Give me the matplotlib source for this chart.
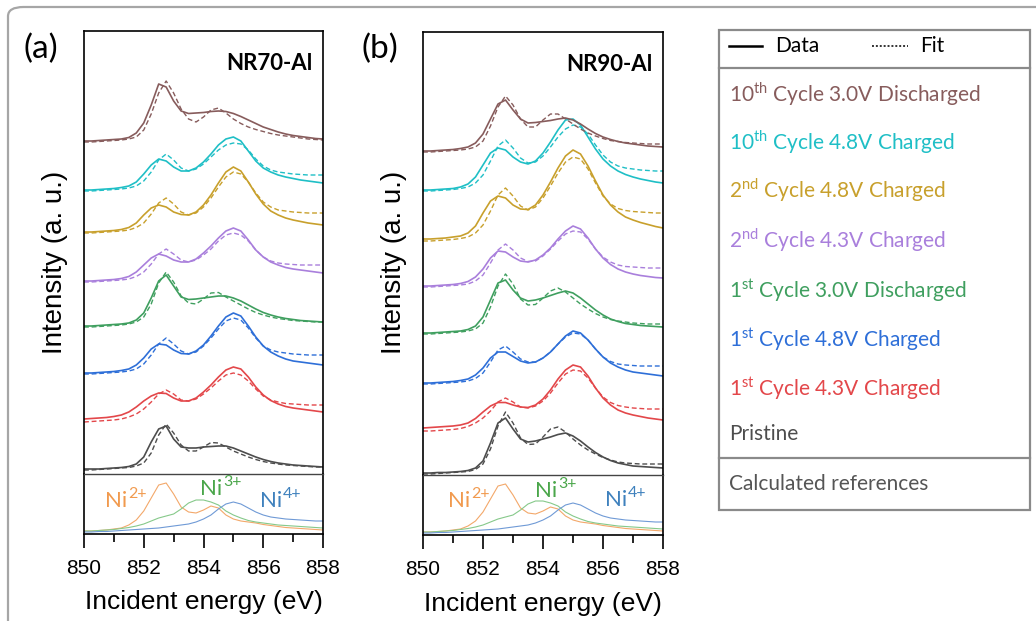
import numpy as np
import matplotlib
matplotlib.use('Agg')
import matplotlib.pyplot as plt
from matplotlib.patches import FancyBboxPatch, Rectangle
from matplotlib.lines import Line2D

plt.rcParams['font.family'] = ['Liberation Sans', 'DejaVu Sans']
plt.rcParams['mathtext.fontset'] = 'custom'
plt.rcParams['mathtext.rm'] = 'Lato'
plt.rcParams['mathtext.bf'] = 'Lato:bold'

# energy grid of the sampled spectra (eV)
energy = np.linspace(850, 858, 33)

# ---- NR70-Al, intensity above each curve's own baseline (a.u.) ----
pristine_a = [0, 0, 0, 0.5, 1, 1.5, 2.5, 5, 12, 27, 40, 43, 30, 22, 21, 21, 22, 22.5, 23, 23, 21, 18, 15, 12, 9.5, 7.5, 6, 5, 4, 3.5, 3, 2.5, 2]
pristine_a_fit = [-1, -1, -0.5, 0, 0.5, 1, 1.5, 3, 6, 16, 34, 45, 36, 24, 18, 18, 22, 26.5, 26, 22, 18, 15, 12, 9.5, 7.5, 6, 5, 4, 3.5, 3, 2.5, 2, 2]
c1_43_a = [0, 0.5, 1, 1.5, 2.5, 4, 7, 12, 18, 23, 26, 25.5, 21, 18, 18, 21, 27, 34, 42, 49, 52, 50, 42, 32, 24, 18.5, 15, 12.5, 11, 10, 9, 8, 7]
c1_43_a_fit = [-3, -2.5, -2, -1.5, -1, 0, 2, 5, 10, 17, 25, 29, 25, 19, 18, 20, 25, 31, 38, 44, 46, 44, 38, 30, 23, 19, 17, 15.5, 15, 14.5, 14, 14, 14]
c1_48_a = [0, 0, 0.5, 1, 1.5, 2.5, 4, 8, 15, 24, 29, 28, 23, 19.5, 19, 22, 28, 37, 47, 56, 60, 57, 47, 36, 27, 21, 17, 14, 12, 11, 10, 9, 8]
c1_48_a_fit = [-1, -1, -0.5, 0, 0.5, 1, 2, 4, 9, 18, 29, 35, 29, 22, 19, 21, 27, 35, 44, 52, 55, 53, 45, 35, 27, 23, 21, 20, 19, 18.5, 18, 18, 18]
c1_30_a = [0, 0, 0.5, 1, 1.5, 2, 3, 6, 13, 28, 45, 51, 40, 29, 26.5, 27, 28, 29, 30, 30, 28, 25, 21, 17, 13.5, 11, 9, 7.5, 6.5, 5.5, 5, 4.5, 4]
c1_30_a_fit = [-1, -1, -0.5, 0, 0.5, 1, 2, 4, 9, 22, 43, 54, 44, 30, 23, 22, 27, 33, 33.5, 29, 25, 21, 17, 13.5, 11, 9, 7.5, 6.5, 5.5, 5, 4.5, 4, 4]
c2_43_a = [0, 0, 0.5, 1, 1.5, 2.5, 4.5, 9, 16, 23, 27, 25, 21, 19, 19, 22, 28, 35, 43, 50, 53, 50, 41, 31, 24, 19, 16, 13.5, 12, 11, 10, 9, 8]
c2_43_a_fit = [-1, -1, -0.5, 0, 0.5, 1, 2, 4.5, 9, 17, 27, 32, 27, 21, 19, 21, 26, 32, 40, 46, 48, 46, 40, 31, 24, 20, 18, 17, 16.5, 16, 16, 16, 16]
c2_48_a = [0, 0, 0.5, 1, 1.5, 2.5, 4.5, 9, 17, 24, 27, 25, 20, 17.5, 17, 20, 27, 37, 49, 60, 65, 61, 50, 38, 28, 21, 17, 14, 12, 10.5, 9, 8, 7]
c2_48_a_fit = [-1, -1, -0.5, 0, 0.5, 1, 2, 4.5, 9, 18, 29, 34, 28, 20, 17, 19, 25, 34, 45, 55, 60, 58, 50, 39, 30, 25, 22, 21, 20, 19.5, 19, 19, 19]
c10_48_a = [0, 0, 0.5, 1, 1.5, 2.5, 4, 8, 16, 25, 31, 29, 23, 19, 19, 22, 28, 36, 45, 51, 53, 49, 39, 29, 22, 18, 15, 13, 11.5, 10, 9, 8, 7]
c10_48_a_fit = [-1, -1, -0.5, 0, 0.5, 1, 2, 4, 9, 18, 30, 36, 30, 22, 19, 21, 26, 33, 40, 45, 47, 46, 40, 31, 24, 20, 18, 17, 16, 15.5, 15, 15, 15]
c10_30_a = [0, 0, 0.5, 1, 1.5, 2, 3.5, 8, 18, 36, 57, 54, 40, 30, 27.5, 28, 28.5, 29.5, 30, 29.5, 27.5, 24.5, 21, 17.5, 14, 11.5, 9, 7, 5.5, 4.5, 3.5, 2.5, 2]
c10_30_a_fit = [-1, -1, -0.5, 0, 0.5, 1, 2, 4, 11, 27, 48, 60, 48, 32, 22, 19, 24, 31, 33, 28, 22, 17.5, 14, 11.5, 9.5, 7.5, 6, 5, 4, 3, 2, 1.5, 1]

# ---- NR90-Al ----
pristine_b = [0, 0, 0.5, 0.5, 1, 1.5, 2.5, 5, 12, 30, 50, 55, 44, 34, 31, 32, 34, 36, 38.5, 40, 37, 32, 26, 20.5, 16, 12.5, 10, 8.5, 7, 6.5, 6, 5.5, 5]
pristine_b_fit = [-1, -1, -0.5, 0, 0.5, 1, 1.5, 3.5, 9, 24, 47, 61, 50, 35, 28.5, 29, 36, 44, 46, 41, 34, 28, 23, 19, 15.5, 13, 11, 10, 9.5, 9, 9, 9, 9]
c1_43_b = [0, 0.5, 1, 1.5, 2, 3, 5, 9.5, 16, 22, 25.5, 25.5, 23, 21, 20.5, 23, 29, 38, 49, 58, 63, 61, 52, 40, 30, 23, 18, 15, 13, 11.5, 10, 9, 8]
c1_43_b_fit = [-3, -3, -2.5, -2, -1.5, -0.5, 1.5, 5, 10, 17, 26, 30, 26, 21, 20, 22, 27, 35, 45, 54, 58, 57, 50, 40, 31, 25.5, 22.5, 21, 20, 19.5, 19, 19, 19]
c1_48_b = [0, 0, 0.5, 1, 1.5, 2.5, 4, 8, 15, 25, 31, 31, 26.5, 22, 20, 21, 25, 31, 39, 47, 52, 50, 43, 34, 26, 20, 16, 13, 11, 10, 9, 8, 7]
c1_48_b_fit = [-1, -1, -0.5, 0, 0.5, 1, 2, 4.5, 10, 21, 33, 37, 31, 24, 21, 21, 25, 31, 39, 46, 50, 49, 43, 34, 26, 21.5, 19, 18, 17.5, 17, 17, 17, 17]
c1_30_b = [0, 0, 0.5, 1, 1.5, 2, 3.5, 7, 16, 33, 50, 53, 43, 35, 32, 33, 35, 37.5, 40, 42, 40, 35, 29, 23, 18, 14, 11.5, 9.5, 8.5, 7.5, 7, 6.5, 6]
c1_30_b_fit = [-1, -1, -0.5, 0, 0.5, 1, 2, 4, 10, 26, 47, 59, 49, 34, 28, 28.5, 35, 42, 45, 41, 35, 29, 24, 19.5, 16, 13.5, 12, 11, 10, 9.5, 9, 9, 9]
c2_43_b = [0, 0, 0.5, 1, 1.5, 2.5, 4.5, 9, 17, 28, 35, 34, 29, 25, 24, 26, 31, 38, 47, 55, 60, 57, 48, 37, 28, 21.5, 17, 14, 12, 10.5, 9.5, 8.5, 8]
c2_43_b_fit = [-1, -1, -0.5, 0, 0.5, 1, 2, 5, 11, 23, 36, 42, 36, 28, 24.5, 25, 30, 37, 45, 52, 55, 54, 47, 37, 29, 24, 21, 19.5, 19, 18.5, 18, 18, 18]
c2_48_b = [0, 0, 0.5, 1, 2, 3, 6, 13, 26, 38, 43, 41, 34, 30, 29.5, 34, 44, 57, 71, 83, 89, 85, 73, 58, 44, 34, 27, 22, 19, 16.5, 14.5, 12.5, 11]
c2_48_b_fit = [-2, -2, -1.5, -1, -0.5, 0.5, 2, 6, 14, 28, 44, 51, 43, 33, 29, 32, 41, 53, 66, 77, 82, 80, 70, 56, 43, 35, 30.5, 28.5, 27.5, 27, 26.5, 26, 26]
c10_48_b = [0, 0, 0.5, 1, 1.5, 3, 6, 13, 25, 37, 42, 40, 33, 28, 26, 29, 37, 48, 60, 70, 71, 65, 53, 41, 31, 24, 19, 15.5, 13, 11, 9.5, 8, 7]
c10_48_b_fit = [-1, -1, -0.5, 0, 0.5, 1.5, 3, 7, 15, 29, 44, 50, 42, 32, 27, 28, 34, 43, 53, 61, 65, 63, 56, 45, 35, 28, 24, 22, 21, 20, 19.5, 19, 19]
c10_30_b = [0, 0, 0.5, 1, 1.5, 2.5, 4, 8, 17, 32, 47, 51, 41, 32, 28, 28.5, 29.5, 30.5, 32, 33, 31, 27, 22, 17.5, 14, 11.5, 9.5, 8, 7, 6, 5, 4.5, 4]
c10_30_b_fit = [-1, -1, -0.5, 0, 0.5, 1, 2, 4, 10, 25, 44, 55, 46, 32, 24, 24, 31, 37, 37, 32, 27, 22, 18, 15, 12.5, 10.5, 9.5, 8.5, 8, 7.5, 7, 7, 7]

# ---- calculated references ----
ni2_ref = [3, 3, 3.5, 4, 5, 6, 9, 14, 23, 36, 49, 51, 40, 27, 22, 21, 24, 28, 26, 19, 15, 13, 12, 11, 9.5, 8.5, 7.5, 6.5, 6, 5.5, 5, 4.5, 4]
ni3_ref = [3, 3, 3.5, 4, 4.5, 5.5, 6.5, 8, 10, 13, 16, 18, 20, 25, 31, 34, 34, 32, 29, 23, 19, 16, 13.5, 12, 11, 10, 9, 8.5, 8, 7.5, 7, 6.5, 6]
ni4_ref = [2, 2, 2.5, 2.5, 3, 3.5, 4, 4.5, 5, 5.5, 6, 7, 8, 9, 10, 12, 15, 19, 25, 30, 32, 30, 26, 22, 19, 17, 16, 15, 14.5, 14, 13.5, 13, 13]

# stacking offsets, bottom to top
offsets_a = [5, 55, 101, 148, 193, 242, 284, 333]
offsets_b = [2, 47, 92, 142, 189, 236, 285, 324]

labels = ['Pristine',
          r'1$^{\mathrm{st}}$ Cycle 4.3V Charged',
          r'1$^{\mathrm{st}}$ Cycle 4.8V Charged',
          r'1$^{\mathrm{st}}$ Cycle 3.0V Discharged',
          r'2$^{\mathrm{nd}}$ Cycle 4.3V Charged',
          r'2$^{\mathrm{nd}}$ Cycle 4.8V Charged',
          r'10$^{\mathrm{th}}$ Cycle 4.8V Charged',
          r'10$^{\mathrm{th}}$ Cycle 3.0V Discharged']
colors = ['#4d4d4d', '#e3474a', '#2e6fd8', '#3f9f5f', '#a97fdc', '#c8a02c', '#1fbfc6', '#875c5c']

data_a = [pristine_a, c1_43_a, c1_48_a, c1_30_a, c2_43_a, c2_48_a, c10_48_a, c10_30_a]
fit_a = [pristine_a_fit, c1_43_a_fit, c1_48_a_fit, c1_30_a_fit, c2_43_a_fit, c2_48_a_fit, c10_48_a_fit, c10_30_a_fit]
data_b = [pristine_b, c1_43_b, c1_48_b, c1_30_b, c2_43_b, c2_48_b, c10_48_b, c10_30_b]
fit_b = [pristine_b_fit, c1_43_b_fit, c1_48_b_fit, c1_30_b_fit, c2_43_b_fit, c2_48_b_fit, c10_48_b_fit, c10_30_b_fit]

refs = [ni2_ref, ni3_ref, ni4_ref]
ref_colors = ['#f3a86a', '#86c98a', '#6f9ad6']
ni_sups = ['2+', '3+', '4+']
ni_cols = ['#f19a4e', '#4aa64a', '#3f81bd']

W, H = 1036, 621
fig = plt.figure(figsize=(W / 100, H / 100), dpi=100)


def fx(px):
    return px / W


def fy(py):
    return 1 - py / H


# rounded frame round the whole figure
frame = FancyBboxPatch((fx(8), fy(640)), fx(1060) - fx(8), fy(7) - fy(640),
                       boxstyle='round,pad=0,rounding_size=0.015', transform=fig.transFigure,
                       fc='none', ec='#a6a6a6', lw=1.6, clip_on=False)
fig.patches.append(frame)


def panel(left, right, top, mid, bottom, data, fits, offsets, letter, name, ni_pos):
    ax = fig.add_axes([fx(left), fy(mid), fx(right) - fx(left), fy(top) - fy(mid)])
    ar = fig.add_axes([fx(left), fy(bottom), fx(right) - fx(left), fy(mid) - fy(bottom)])
    for d, f, off, c in zip(data, fits, offsets, colors):
        ax.plot(energy, np.array(d) + off, color=c, lw=1.2)
        ax.plot(energy, np.array(f) + off, color=c, lw=1.0, ls=(0, (3.5, 2)))
    ax.set_xlim(850, 858)
    ax.set_ylim(0, mid - top)
    ax.set_xticks([])
    ax.set_yticks([])
    ax.spines['bottom'].set_visible(False)
    for s in ['top', 'left', 'right']:
        ax.spines[s].set_linewidth(1.2)
    ax.text(0.955, 0.95, name, transform=ax.transAxes, ha='right', va='top',
            fontsize=16, fontweight='bold', family='Lato')

    for r, c in zip(refs, ref_colors):
        ar.plot(energy, r, color=c, lw=0.8)
    ar.set_xlim(850, 858)
    ar.set_ylim(0, bottom - mid)
    ar.set_yticks([])
    ar.set_xticks([850, 852, 854, 856, 858])
    ar.set_xticks([851, 853, 855, 857], minor=True)
    ar.tick_params(axis='x', which='major', direction='out', length=10, width=1.2,
                   labelsize=15, pad=8)
    ar.tick_params(axis='x', which='minor', direction='out', length=6, width=1.2)
    ar.spines['top'].set_color('#444444')
    ar.spines['top'].set_linewidth(1.0)
    for s in ['bottom', 'left', 'right']:
        ar.spines[s].set_linewidth(1.2)
    ar.set_xlabel('Incident energy (eV)', fontsize=19, labelpad=9)

    # Ni labels with superscript charge
    for (x, y), s, c in zip(ni_pos, ni_sups, ni_cols):
        base = ar.text(x, y, 'Ni', color=c, fontsize=16, family='Lato',
                       ha='left', va='baseline')
        ar.annotate(s, xy=(1.0, 0.52), xycoords=base, xytext=(0.5, 0),
                    textcoords='offset points', color=c, fontsize=11.5,
                    family='Lato', ha='left', va='bottom')

    fig.text(fx(left - 29), fy(262), 'Intensity (a. u.)', rotation=90, ha='center',
             va='center', fontsize=20)
    fig.text(fx(left - 43), fy(49), letter, ha='center', va='center', fontsize=24, family='Lato')


panel(84, 323, 31, 474, 534, data_a, fit_a, offsets_a, '(a)', 'NR70-Al',
      [(850.7, 27), (853.88, 39), (855.9, 27)])
panel(423, 663, 32, 475, 535, data_b, fit_b, offsets_b, '(b)', 'NR90-Al',
      [(850.83, 28), (853.73, 38), (856.07, 29)])

# legend table on the right
box_col = '#8a8a8a'
fig.patches.append(Rectangle((fx(719), fy(510)), fx(1030) - fx(719), fy(30) - fy(510),
                             transform=fig.transFigure, fc='none', ec=box_col, lw=1.6))
for py in [68, 458]:
    fig.lines.append(Line2D([fx(719), fx(1030)], [fy(py), fy(py)], transform=fig.transFigure,
                            color=box_col, lw=1.6))
fig.lines.append(Line2D([fx(729), fx(762)], [fy(46), fy(46)], transform=fig.transFigure,
                        color='black', lw=1.8))
fig.lines.append(Line2D([fx(872), fx(908)], [fy(46), fy(46)], transform=fig.transFigure,
                        color='#333333', lw=1.4, ls=(0, (1, 1))))
fig.text(fx(775), fy(46), 'Data', fontsize=15, family='Lato', va='center')
fig.text(fx(920), fy(46), 'Fit', fontsize=15, family='Lato', va='center')

label_y = [434, 389, 340, 291, 240, 190, 142, 94]
for lab, c, py in zip(labels, colors, label_y):
    fig.text(fx(729), fy(py), lab, color=c, fontsize=15, family='Lato', va='center')
fig.text(fx(729), fy(484), 'Calculated references', color='#555555', fontsize=15,
         family='Lato', va='center')

fig.savefig('out.png', dpi=100)
